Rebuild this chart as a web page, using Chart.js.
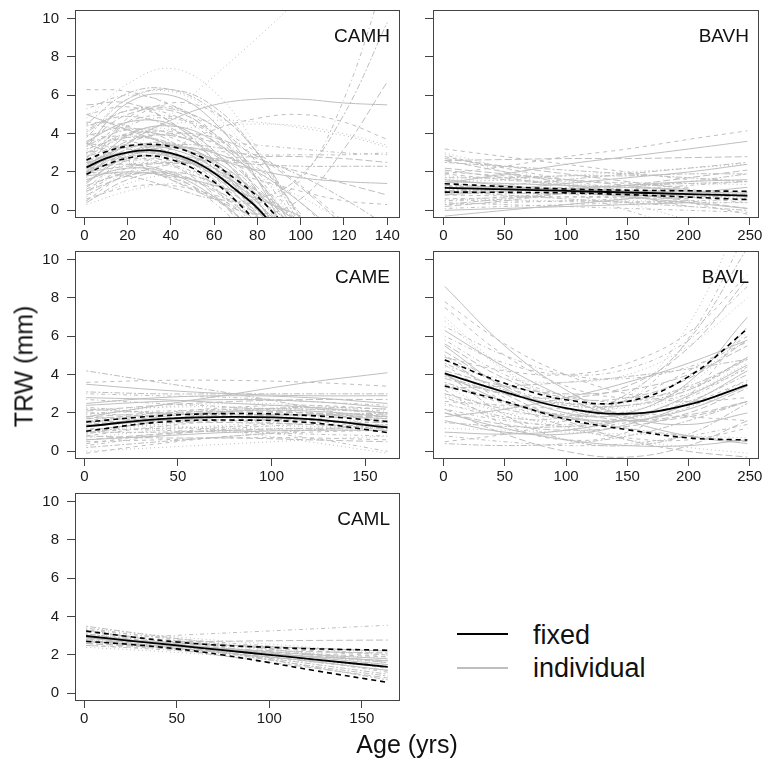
<!DOCTYPE html>
<html><head><meta charset="utf-8">
<script src="https://cdn.jsdelivr.net/npm/chart.js@4.4.1/dist/chart.umd.min.js"></script>
<style>
html,body{margin:0;padding:0;background:#fff;width:765px;height:758px;overflow:hidden;position:relative;font-family:"Liberation Sans",Arial,Helvetica,sans-serif;}
canvas{position:absolute;}
.plab{position:absolute;font-size:19px;line-height:1;color:#111;white-space:nowrap;text-align:right;width:120px;}
.axt{position:absolute;font-size:25px;line-height:1;color:#111;white-space:nowrap;text-align:center;width:200px;height:25px;}
.leg{position:absolute;font-size:27px;line-height:1;color:#111;white-space:nowrap;}
.legline{position:absolute;height:0;}
</style></head><body>
<script>
// ---------------- DATA ----------------
const PANEL_NAMES = ['CAMH','BAVH','CAME','BAVL','CAML'];
const Y_TICKS = [0,2,4,6,8,10];
const X_TICKS_CAMH = [0,20,40,60,80,100,120,140];
const X_TICKS_BAV  = [0,50,100,150,200,250];
const X_TICKS_CAM  = [0,50,100,150];

// CAMH
const CAMH_FIT_X  = [1,10,20,30,40,50,60,70,80,90];
const CAMH_FIXED  = [2.24,2.71,3.02,3.14,2.99,2.60,1.95,1.07,0.12,-1.17];
const CAMH_UPPER  = [2.62,3.05,3.35,3.45,3.33,2.98,2.40,1.62,0.72,-0.45];
const CAMH_LOWER  = [1.88,2.38,2.72,2.85,2.65,2.20,1.48,0.50,-0.70,-2.20];
const CAMH_IND_X  = [1,20,40,60,80,100,120,140];
const CAMH_IND = [
 [2.2,3.0,2.9,1.8,-0.3,-2.5],[3.0,4.0,3.8,2.4,0.2,-2.8],[1.5,2.4,2.3,1.2,-0.8],[4.2,5.2,5.0,3.6,1.0,-2.5],
 [0.8,1.8,1.9,1.0,-0.6],[2.8,3.4,3.0,1.6,-0.7],[3.6,4.6,4.5,3.1,0.5,-3.0],[1.2,2.6,2.8,1.8,0.0,-2.5],
 [2.5,4.0,4.2,3.0,0.6,-2.8],[5.3,6.0,5.5,3.8,1.0,-2.6],[0.4,1.6,2.0,1.4,-0.1,-2.2],[1.8,3.2,3.5,2.5,0.4,-2.6],
 [3.3,5.6,6.0,4.6,1.6,-2.9],[2.0,4.8,5.4,4.0,1.0,-3.0],[4.8,6.6,7.4,6.2,3.2,-1.5],[1.0,2.0,1.8,0.4,-1.8],
 [2.6,3.0,2.4,0.8,-1.8],[3.9,4.3,3.6,1.8,-1.2],[1.6,2.2,1.9,0.7,-1.2],[0.6,1.2,1.3,0.7,-0.5],
 [4.0,5.8,6.2,5.0,2.4,-1.5],[2.9,4.4,4.8,3.9,1.8,-1.5],[2.3,3.6,3.9,3.0,1.2,-1.5],[3.2,3.8,3.5,2.2,0.2,-2.3],
 [1.4,3.0,3.4,2.6,0.8,-1.9],[5.0,5.4,4.6,2.6,-0.4],[0.9,2.4,2.9,2.3,0.7,-1.8],[2.0,2.6,2.4,1.4,-0.4],
 [3.5,5.0,5.2,4.0,1.6,-1.9],[4.4,4.9,4.3,2.6,0.0,-3.0],[1.9,3.9,4.4,3.6,1.6,-1.4],[2.7,4.6,5.6,5.1,3.0,-0.5],
 [0.7,2.0,2.5,2.2,1.0,-0.8],[3.0,3.4,2.8,1.2,-1.2],[1.3,1.9,1.7,0.6,-1.2],[3.8,5.8,6.3,5.4,3.0,-0.8],
 [2.4,3.3,3.2,2.2,0.4,-2.0],[4.6,4.4,3.2,1.2,-1.6],[1.7,2.9,3.0,2.0,0.2,-2.2],[2.1,2.8,2.7,1.9,0.6,-1.0],
 [5.5,5.6,4.6,2.6,-0.3],[3.4,4.2,4.0,2.9,1.0,-1.5],[2.5,3.0,2.8,2.0,0.8,-0.7],[1.1,2.2,2.5,2.1,1.0,-0.6],
 [0.3,1.0,1.4,1.3,0.6,-0.5],[3.1,4.6,4.9,4.0,2.0,-0.8],[2.2,2.4,2.0,1.1,-0.2],[4.1,5.2,5.3,4.4,2.5,-0.2],
 [1.5,2.8,3.3,3.0,2.0,0.4,-1.5],[2.8,3.9,4.1,3.5,2.2,0.4,-1.8],[0.5,1.4,1.9,2.0,1.6,0.7,-0.6],[3.6,3.9,3.4,2.4,1.0,-0.7],
 [2.0,3.5,4.0,3.8,2.8,1.2,-0.8],[4.5,6.1,6.3,5.2,3.0,-0.4],[1.8,2.0,1.8,1.3,0.6,-0.3],
 [6.3,6.2,5.5,4.4,3.0,1.3,-0.6],[1.0,2.9,5.0,7.0,9.0,11.1],[3.0,2.5,1.6,0.8,0.4,1.6,5.8,12.5],
 [3.5,2.6,1.6,0.6,-0.2,0.6,3.2,6.7],[2.0,1.8,1.2,0.6,0.6,1.8,5.0,9.8],[1.8,3.5,4.7,5.5,5.8,5.8,5.6,5.5],
 [0.5,2.0,3.2,4.2,4.8,5.0,4.6,3.7],[3.0,4.0,4.5,4.7,4.6,4.3,3.9,3.3],[4.5,4.2,3.9,3.6,3.4,3.2,3.0,2.9],
 [2.0,2.3,2.5,2.7,2.8,2.8,2.7,2.5],[3.5,3.2,2.9,2.6,2.4,2.3,2.3,2.3],[5.0,4.2,3.4,2.7,2.1,1.7,1.5,1.4],
 [2.5,2.7,2.6,2.2,1.6,1.0,0.5,0.3],[3.0,3.8,4.2,4.4,4.5,4.4,4.0,3.4],[4.0,3.6,3.3,3.1,2.9,2.9,2.9,3.0],
 [1.0,1.8,2.4,2.6,2.5,2.0,1.4,0.8],[2.0,3.0,3.4,3.3,2.7,1.8,0.6,-0.8]
];

// BAVH
const BAVH_FIT_X = [1,50,100,150,200,248];
const BAVH_FIXED = [1.17,1.09,1.01,0.93,0.85,0.77];
const BAVH_UPPER = [1.39,1.24,1.11,1.05,1.02,0.99];
const BAVH_LOWER = [0.95,0.94,0.91,0.82,0.69,0.56];
const BAVH_IND_X = [1,50,100,150,200,248];
const BAVH_IND = [
 [1.2,1.15,1.1,1.0,0.95,0.9],[0.6,0.65,0.7,0.75,0.8,0.85],[1.8,1.6,1.4,1.2,1.0,0.8],[0.3,0.4,0.5,0.6,0.7,0.8],
 [2.2,1.9,1.6,1.3,1.0,0.7],[0.9,0.9,0.85,0.8,0.75,0.7],[1.5,1.4,1.3,1.2,1.1],[2.8,2.2,1.6,1.0,0.4,-0.2],
 [3.0,2.2,1.3,0.4,-0.5],[2.9,2.0,1.0,0.0,-1.0],[0.2,0.5,0.9,1.3,1.7,2.1],[1.0,1.3,1.6,1.9,2.2,2.5],
 [1.4,1.9,2.4,2.8,3.2,3.6],[1.9,2.3,2.8,3.2,3.7,4.15],[1.6,1.55,1.5,1.45,1.4,1.35],[0.5,0.5,0.45,0.45,0.4,0.4],
 [1.3,1.2,1.0,0.8,0.6],[2.5,2.3,2.1,1.9,1.7,1.5],[0.8,1.0,1.1,1.3,1.5,1.6],[2.0,1.8,1.6,1.4,1.2],
 [1.1,1.0,0.9,0.8,0.7,0.6],[0.1,0.2,0.3,0.4,0.5,0.55],[2.6,2.0,1.4,0.8,0.2],[1.7,1.7,1.8,1.8,1.9,1.9],
 [0.9,1.1,1.4,1.7,2.0,2.4],[3.2,2.8,2.4,2.0,1.6],[1.4,1.2,1.1,0.9,0.8,0.6],[0.5,0.7,0.9,1.1,1.3,1.5],
 [2.6,2.65,2.7,2.7,2.75,2.8],[1.0,0.8,0.6,0.4,0.2,0.0],[0.0,0.1,0.2,0.3,0.4],[1.9,1.6,1.3,1.0,0.7,0.4],
 [0.6,0.55,0.5,0.5,0.45,0.4],[1.25,1.2,1.1,1.05,1.0,0.95],[2.1,1.7,1.3,0.9,0.5,0.1],[0.3,0.6,0.9,1.2,1.5,1.9],
 [1.6,1.3,1.0,0.7,0.4,0.1],[0.8,0.75,0.7,0.65,0.6],[1.4,1.6,1.8,2.0,2.2,2.4],[0.4,0.3,0.2,0.1,0.0,-0.1],
 [2.7,2.3,1.9,1.5,1.1,0.7],[1.0,1.1,1.2,1.3,1.4,1.5],[-0.3,0.0,0.3,0.6,0.9,1.2]
];

// CAME
const CAME_FIT_X = [1,40,80,120,162];
const CAME_FIXED = [1.30,1.68,1.80,1.68,1.25];
const CAME_UPPER = [1.53,1.85,1.97,1.87,1.56];
const CAME_LOWER = [1.05,1.52,1.63,1.50,0.98];
const CAME_IND_X = [1,40,80,120,162];
const CAME_IND = [
 [1.3,1.6,1.8,1.7,1.3],[0.8,1.3,1.6,1.6,1.3],[2.2,2.3,2.3,2.1,1.8],[0.3,0.8,1.2,1.4,1.4],
 [1.8,2.0,2.1,2.0,1.7],[4.2,3.6,3.0,2.3,1.5],[1.8,2.4,3.0,3.6,4.1],[3.6,3.7,3.7,3.6,3.4],
 [1.0,1.4,1.7,1.8,1.7],[2.0,1.8,1.6,1.4,1.2],[0.6,0.9,1.1,1.2,1.2],[1.5,1.9,2.2,2.2,2.0],
 [2.4,2.6,2.7,2.6,2.3],[-0.1,0.4,0.8,1.0,1.1],[1.1,1.2,1.3,1.3,1.2],[3.0,2.9,2.8,2.6,2.4],
 [1.6,1.5,1.5,1.4,1.3],[0.9,1.6,2.1,2.3,2.2],[2.8,2.7,2.5,2.3,2.0],[0.5,0.6,0.7,0.7,0.6],
 [1.9,2.3,2.5,2.4,2.0],[1.2,1.1,1.0,0.9,0.8],[2.1,2.4,2.6,2.7,2.7],[0.2,0.5,0.8,1.1,1.4],
 [3.5,3.2,3.0,2.9,2.9],[1.4,1.7,1.9,1.9,1.7],[0.7,1.1,1.4,1.6,1.6],[2.3,2.0,1.8,1.6,1.5],
 [1.7,1.9,2.0,2.0,1.9],[1.0,1.0,1.1,1.1,1.1],[2.5,2.8,2.9,2.8,2.5],[0.4,0.9,1.3,1.5,1.5],
 [1.5,1.3,1.2,1.2,1.3],[2.0,2.1,2.2,2.2,2.1],[0.8,0.7,0.7,0.6,0.5],[3.1,3.0,3.0,3.0,3.0],
 [1.3,1.8,2.1,2.1,1.8],[1.8,1.6,1.6,1.7,1.9],[0.0,0.2,0.4,0.6,0.8],[2.7,2.5,2.3,2.0,1.6],
 [1.1,1.5,1.8,1.9,1.8],[2.2,2.0,1.9,1.9,2.0],[0.6,0.8,1.0,1.1,1.1],[1.6,2.0,2.3,2.4,2.2],
 [1.5,1.4,1.0,0.5,-0.1],[1.0,1.2,1.1,0.7,0.0]
];

// BAVL
const BAVL_FIT_X = [1,50,100,150,200,248];
const BAVL_FIXED = [4.07,3.09,2.25,1.96,2.43,3.47];
const BAVL_UPPER = [4.77,3.55,2.69,2.60,3.90,6.38];
const BAVL_LOWER = [3.41,2.60,1.68,1.13,0.70,0.59];
const BAVL_IND_X = [1,50,100,150,200,248];
const BAVL_IND = [
 [8.6,5.5,3.2,1.8,1.4,2.0],[7.5,5.0,3.4,2.8,3.3,4.9],[6.8,4.2,2.5,1.8,2.2,3.6],[5.8,4.0,2.9,2.6,3.2,4.8],
 [5.2,3.4,2.2,1.6,1.8,2.6],[4.6,3.2,2.4,2.4,3.2,4.9],[4.0,2.6,1.8,1.6,2.2,3.4],[3.5,2.5,1.9,1.9,2.5,3.7],
 [3.0,2.3,1.9,2.1,3.0,4.6],[2.5,1.7,1.3,1.5,2.3,3.7],[2.0,1.4,1.1,1.3,2.0,3.3],[1.5,1.3,1.3,1.7,2.6,4.0],
 [1.0,0.9,1.1,1.7,2.9,4.5],[0.5,0.9,1.6,2.7,4.2,6.0],[4.4,3.8,3.6,4.0,5.5,8.0],[6.0,4.6,4.0,4.3,5.8,8.6],
 [3.8,3.0,2.8,3.4,5.4,9.0],[2.8,1.8,1.8,3.0,5.8,10.6],[5.5,3.3,2.0,2.0,3.6,7.0],[3.2,1.4,0.6,1.0,2.9,6.5],
 [7.0,4.3,2.6,2.3,3.5,6.2],[2.2,1.6,1.4,1.8,2.8,4.4],[4.8,3.0,1.6,0.6,0.0,-0.3],[3.6,2.6,1.8,1.2,0.8,0.5],
 [6.3,4.4,2.8,1.6,0.8,0.4],[2.6,2.4,2.2,2.0,1.8,1.6],[1.2,1.1,1.0,0.9,0.8,0.7],[5.0,3.4,2.5,2.4,3.0,4.3],
 [4.2,3.4,3.0,3.2,4.0,5.5],[3.3,3.4,3.6,3.9,4.3,4.8],[1.8,2.2,2.8,3.6,4.6,5.8],[7.8,5.6,4.0,3.0,2.6,2.8],
 [2.9,2.0,1.2,0.6,0.2,-0.1],[0.8,0.5,0.3,0.4,0.8,1.4],[5.6,3.8,2.8,2.8,3.8,5.8],[3.9,3.0,2.5,2.6,3.4,4.8],
 [1.6,1.0,0.9,1.4,2.5,4.2],[4.9,4.2,4.0,4.6,6.2,9.2],[2.4,2.0,2.0,2.6,3.9,5.8],[6.5,5.0,4.0,3.8,4.4,5.7],
 [3.0,2.2,1.7,1.6,1.9,2.6],[0.4,0.3,0.4,0.8,1.6,2.6],[2.0,1.2,0.6,0.3,0.3,0.6],[4.5,2.6,1.3,0.7,0.6,1.2],
 [3.4,2.0,1.6,2.8,6.6,13.0],[5.0,2.8,1.8,2.6,5.9,11.5],[2.2,0.9,0.0,-0.3,0.3,1.6],[4.1,1.9,0.6,0.3,0.9,2.5]
];

// CAML
const CAML_FIT_X = [1,25,50,75,100,125,164];
const CAML_FIXED = [2.99,2.74,2.50,2.25,2.01,1.76,1.38];
const CAML_UPPER = [3.25,2.95,2.68,2.50,2.40,2.32,2.25];
const CAML_LOWER = [2.71,2.55,2.32,2.00,1.60,1.18,0.57];
const CAML_IND_X = [1,55,110,164];
const CAML_IND = [
 [3.0,2.5,2.0,1.5],[3.2,2.6,2.0,1.3],[2.8,2.4,2.0,1.6],[3.4,2.7,1.9,1.1],[2.6,2.3,2.0,1.7],
 [3.3,2.5,1.6,0.7],[2.9,2.5,2.1,1.8],[2.5,2.3,2.1,1.9],[3.1,2.6,2.2,1.8],[2.8,3.05,3.3,3.55],
 [2.7,2.7,2.75,2.78],[3.0,2.4,1.7,1.0],[2.9,2.3,1.8,1.2],[3.2,2.7,2.3,1.9],[2.7,2.3,1.8,1.4],
 [3.1,2.5,1.8,1.2],[2.6,2.4,2.2,2.1],[3.5,2.8,2.2,1.6],[2.9,2.6,2.4,2.2],[3.0,2.5,2.1,1.6],
 [2.4,2.1,1.7,1.4],[3.3,2.8,2.4,2.0],[2.8,2.2,1.5,0.8],[3.1,2.4,1.6,0.9],[2.7,2.4,2.0,1.7],
 [3.0,2.6,2.3,2.0],[3.4,2.9,2.5,2.1],[2.5,2.2,1.8,1.5]
];

// ---------------- LAYOUT ----------------
const PANELS = [
 {name:'CAMH', box:[75,10,400,218], xr:[-4.3,145.9], xt:X_TICKS_CAMH, showY:true,
  fitX:CAMH_FIT_X, fixed:CAMH_FIXED, upper:CAMH_UPPER, lower:CAMH_LOWER, indX:CAMH_IND_X, ind:CAMH_IND},
 {name:'BAVH', box:[433,10,759,218], xr:[-8.6,257.5], xt:X_TICKS_BAV, showY:false,
  fitX:BAVH_FIT_X, fixed:BAVH_FIXED, upper:BAVH_UPPER, lower:BAVH_LOWER, indX:BAVH_IND_X, ind:BAVH_IND},
 {name:'CAME', box:[75,251,400,459], xr:[-5.0,168.7], xt:X_TICKS_CAM, showY:true,
  fitX:CAME_FIT_X, fixed:CAME_FIXED, upper:CAME_UPPER, lower:CAME_LOWER, indX:CAME_IND_X, ind:CAME_IND},
 {name:'BAVL', box:[433,251,759,459], xr:[-8.6,257.5], xt:X_TICKS_BAV, showY:false,
  fitX:BAVL_FIT_X, fixed:BAVL_FIXED, upper:BAVL_UPPER, lower:BAVL_LOWER, indX:BAVL_IND_X, ind:BAVL_IND},
 {name:'CAML', box:[75,493,400,701], xr:[-5.0,170.6], xt:X_TICKS_CAM, showY:true,
  fitX:CAML_FIT_X, fixed:CAML_FIXED, upper:CAML_UPPER, lower:CAML_LOWER, indX:CAML_IND_X, ind:CAML_IND}
];
const Y_RANGE = [-0.4, 10.45];
const DASHES = [[], [4,4], [1,3], [1,3,4,3], [7,3], [2,2,6,2]];
const AX = '#444';
const FONT = {family:'"Liberation Sans", Arial, Helvetica, sans-serif', size:15};

function pts(xs, ys){ const o=[]; for(let i=0;i<ys.length;i++){ if(ys[i]!==null) o.push({x:xs[i], y:ys[i]}); } return o; }

const boxPlugin = {id:'box', afterDraw(chart){ const {ctx, chartArea:a} = chart; ctx.save(); ctx.strokeStyle=AX; ctx.lineWidth=1;
  ctx.strokeRect(Math.round(a.left)+0.5, Math.round(a.top)+0.5, Math.round(a.right-a.left)-1, Math.round(a.bottom-a.top)-1); ctx.restore(); }};

function makePanel(p){
  const YW=60, PT=24, PR=16, XH=36;
  const [l,t,r,b] = p.box;
  const cv = document.createElement('canvas');
  cv.width = (r-l)+YW+PR; cv.height=(b-t)+PT+XH;
  cv.style.left=(l-YW)+'px'; cv.style.top=(t-PT)+'px';
  document.body.appendChild(cv);
  const ds = [];
  ds.push({data:pts(p.fitX,p.fixed), borderColor:'#000', borderWidth:1.8, tension:0.4});
  ds.push({data:pts(p.fitX,p.upper), borderColor:'#000', borderWidth:1.6, borderDash:[5,4], tension:0.4});
  ds.push({data:pts(p.fitX,p.lower), borderColor:'#000', borderWidth:1.6, borderDash:[5,4], tension:0.4});
  p.ind.forEach((ys,i)=>ds.push({data:pts(p.indX,ys), borderColor:'#bebebe', borderWidth:1, borderDash:DASHES[i%6], tension:0.4}));
  new Chart(cv, {type:'line', data:{datasets:ds}, plugins:[boxPlugin], options:{
    responsive:false, animation:false, devicePixelRatio:1, events:[],
    layout:{padding:{top:PT,right:PR,left:0,bottom:0}},
    elements:{point:{radius:0}, line:{fill:false}},
    plugins:{legend:{display:false}, tooltip:{enabled:false}},
    scales:{
      x:{type:'linear', min:p.xr[0], max:p.xr[1],
         afterBuildTicks:s=>{s.ticks=p.xt.map(v=>({value:v}));}, afterFit:s=>{s.height=XH;},
         grid:{drawOnChartArea:false, drawTicks:true, tickLength:7, color:AX, lineWidth:1},
         border:{display:false},
         ticks:{font:FONT, color:'#1a1a1a', padding:2, maxRotation:0, autoSkip:false}},
      y:{type:'linear', min:Y_RANGE[0], max:Y_RANGE[1],
         afterBuildTicks:s=>{s.ticks=Y_TICKS.map(v=>({value:v}));}, afterFit:s=>{s.width=YW;},
         grid:{drawOnChartArea:false, drawTicks:true, tickLength:8, color:AX, lineWidth:1},
         border:{display:false},
         ticks:{display:p.showY, font:FONT, color:'#1a1a1a', padding:8, autoSkip:false}}
    }
  }});
  const lab = document.createElement('div');
  lab.className='plab'; lab.textContent=p.name;
  lab.style.left=(r-10-120)+'px'; lab.style.top=(t+25-9.3)+'px';
  document.body.appendChild(lab);
}
PANELS.forEach(makePanel);

function addDiv(cls, text, css){ const d=document.createElement('div'); d.className=cls; d.textContent=text; Object.assign(d.style, css); document.body.appendChild(d); return d; }
addDiv('axt','TRW (mm)',{left:(24-100)+'px', top:(366-12.5)+'px', transform:'rotate(-90deg)'});
addDiv('axt','Age (yrs)',{left:(407-100)+'px', top:(744-12.5)+'px'});
addDiv('legline','',{left:'457px', top:'633px', width:'51px', borderTop:'2.5px solid #000'});
addDiv('legline','',{left:'457px', top:'667px', width:'51px', borderTop:'2.5px solid #bebebe'});
addDiv('leg','fixed',{left:'533px', top:'622px'});
addDiv('leg','individual',{left:'533px', top:'655px'});
</script>
</body></html>
